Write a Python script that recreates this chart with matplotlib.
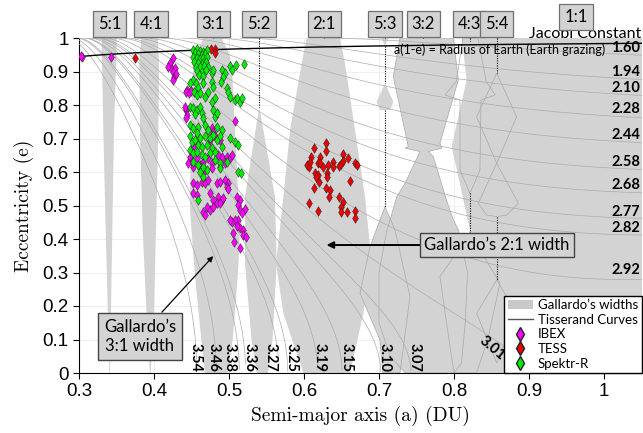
import numpy as np
import matplotlib
matplotlib.use("Agg")
import matplotlib.pyplot as plt
from matplotlib import font_manager as fm
from matplotlib.patches import Polygon, Patch
from matplotlib.lines import Line2D

# ---------------------------------------------------------------- fonts
_available = {f.name for f in fm.fontManager.ttflist}


def pick(*names):
    for n in names:
        if n in _available:
            return n
    return "DejaVu Sans"


NARROW = pick("Liberation Sans Narrow", "Lato", "Open Sans")
SANS = pick("Liberation Sans", "Arimo", "DejaVu Sans")
SERIF = pick("cmr10", "DejaVu Serif")

# ---------------------------------------------------------------- data
# resonance centres (semi-major axis, DU)
res_labels = ["5:1", "4:1", "3:1", "5:2", "2:1", "5:3", "3:2", "4:3", "5:4"]
res_a = [0.341, 0.396, 0.479, 0.540, 0.627, 0.708, 0.759, 0.821, 0.857]

# Jacobi constants of the Tisserand curves
jacobi_all = [1.60, 1.94, 2.10, 2.28, 2.44, 2.58, 2.68, 2.77, 2.82, 2.92,
              3.01, 3.07, 3.10, 3.15, 3.19, 3.25, 3.27, 3.36, 3.38, 3.46, 3.54]
# labels along the right border
jacobi_right = ["1.60", "1.94", "2.10", "2.28", "2.44", "2.58", "2.68", "2.77", "2.82", "2.92"]
jacobi_right_e = [0.970, 0.899, 0.851, 0.788, 0.710, 0.630, 0.561, 0.481, 0.433, 0.307]
# labels along the bottom border
jacobi_bottom = ["3.54", "3.46", "3.38", "3.36", "3.27", "3.25", "3.19", "3.15", "3.10", "3.07"]
jacobi_bottom_a = [0.455, 0.479, 0.501, 0.528, 0.555, 0.584, 0.621, 0.657, 0.708, 0.748]

earth_radius_du = 0.0166

# Gallardo's resonance widths, outlines as (a, e) vertex lists
w51_a = [0.331, 0.3302, 0.3324, 0.3356, 0.3391, 0.3405, 0.3415, 0.3422, 0.3444, 0.3467, 0.3502, 0.3505]
w51_e = [1.0, 0.98, 0.725, 0.427, 0.128, 0.0, 0.0, 0.128, 0.427, 0.725, 0.98, 1.0]

w41_a = [0.383, 0.3804, 0.3813, 0.3849, 0.3911, 0.3945, 0.3955, 0.3991, 0.4027, 0.4058, 0.4067, 0.405]
w41_e = [1.0, 0.924, 0.725, 0.427, 0.128, 0.0, 0.0, 0.128, 0.427, 0.725, 0.924, 1.0]

w31_a = [0.466, 0.4575, 0.4524, 0.4489, 0.448, 0.4547, 0.4636, 0.468,
         0.498, 0.505, 0.512, 0.5147, 0.508, 0.5036, 0.499, 0.490]
w31_e = [1.0, 0.96, 0.924, 0.725, 0.487, 0.288, 0.089, 0.0,
         0.0, 0.1, 0.3, 0.427, 0.725, 0.924, 0.96, 1.0]

w52_a = [0.5404, 0.5613, 0.5636, 0.558, 0.552, 0.537, 0.530, 0.5213, 0.5213]
w52_e = [0.795, 0.526, 0.327, 0.1, 0.0, 0.0, 0.1, 0.327, 0.526]

w21_a = [0.6036, 0.5969, 0.5814, 0.5725, 0.5627, 0.5725, 0.5991,
         0.6614, 0.6791, 0.6903, 0.6814, 0.668, 0.6547, 0.648]
w21_e = [1.0, 0.924, 0.725, 0.526, 0.327, 0.178, 0.0,
         0.0, 0.178, 0.327, 0.526, 0.725, 0.924, 1.0]

w53_top_a = [0.703, 0.713, 0.708]
w53_top_e = [1.0, 1.0, 0.977]
w53_mid_a = [0.708, 0.7191, 0.7147, 0.7013, 0.6969]
w53_mid_e = [0.865, 0.81, 0.785, 0.785, 0.81]
w53_low_a = [0.708, 0.7213, 0.7413, 0.728, 0.705, 0.7013, 0.6747, 0.688]
w53_low_e = [0.4965, 0.427, 0.228, 0.0, 0.0, 0.0985, 0.238, 0.377]

w32_a = [0.728, 0.7991, 0.8058, 0.7813, 0.7836, 0.7658, 0.7724, 0.790, 0.7991, 0.8058,
         0.818, 0.815, 0.81, 0.80, 0.735, 0.715, 0.700, 0.700, 0.710, 0.7236,
         0.7347, 0.7547, 0.7347, 0.739, 0.719]
w32_e = [1.0, 1.0, 0.875, 0.686, 0.671, 0.661, 0.646, 0.516, 0.457, 0.427,
         0.3, 0.15, 0.03, 0.0, 0.0, 0.05, 0.15, 0.3, 0.42, 0.526,
         0.566, 0.661, 0.671, 0.676, 0.885]

w11_a = [0.8102, 1.06, 1.06, 0.79, 0.79, 0.80, 0.8213, 0.7969, 0.8169]
w11_e = [1.0, 1.0, 0.0, 0.0, 0.1, 0.3, 0.427, 0.676, 0.875]

w43_up_a = [0.812, 0.803, 0.788, 0.808, 0.808, 0.8213, 0.8346, 0.836, 0.855, 0.843, 0.832]
w43_up_e = [1.0, 0.87, 0.83, 0.815, 0.606, 0.536, 0.606, 0.815, 0.83, 0.87, 1.0]
w43_low_a = [0.8213, 0.8613, 0.845, 0.83, 0.80, 0.79, 0.7813]
w43_low_e = [0.417, 0.268, 0.1, 0.0, 0.0, 0.15, 0.288]

w54_up_a = [0.8569, 0.8835, 0.8569, 0.8302]
w54_up_e = [0.8945, 0.765, 0.626, 0.765]
w54_mid_a = [0.8569, 0.8858, 0.8702, 0.8569, 0.8436, 0.8324]
w54_mid_e = [0.626, 0.5065, 0.4716, 0.4667, 0.4716, 0.5065]
w54_low_a = [0.8569, 0.8835, 0.8569, 0.8302]
w54_low_e = [0.2776, 0.178, 0.03, 0.178]

# dotted resonance centre lines where the width vanishes: (a, e_top, e_bottom)
dot_a = [0.5404, 0.708, 0.708, 0.8213, 0.8213, 0.857, 0.857]
dot_e_top = [1.0, 0.977, 0.785, 1.0, 0.536, 1.0, 0.4667]
dot_e_bot = [0.795, 0.865, 0.4965, 0.99, 0.417, 0.8945, 0.2776]

# observed objects (a [DU], e)
ibex_a = [0.3036, 0.3027, 0.3427,
          0.4249, 0.4213, 0.4191, 0.4236, 0.4280, 0.4258, 0.4267, 0.4249, 0.4293,
          0.4445, 0.4427, 0.4471, 0.4498, 0.4427, 0.4436, 0.4427, 0.4418, 0.5080,
          0.4769, 0.4791, 0.4813, 0.4747, 0.4880, 0.4569, 0.4525, 0.4480, 0.4502,
          0.4458, 0.4525, 0.4613, 0.4658, 0.4724, 0.4769, 0.4858, 0.4880, 0.4902,
          0.4969, 0.5013, 0.5036, 0.4947, 0.4769, 0.4680, 0.4569,
          0.4525, 0.4569, 0.4636, 0.4680, 0.4724, 0.4836, 0.4880, 0.4947, 0.4991,
          0.4969, 0.4991, 0.4525, 0.4569, 0.4747, 0.4858, 0.4902, 0.4791, 0.4836,
          0.4880, 0.4925, 0.5102, 0.5147, 0.5124, 0.4702, 0.4658, 0.4680, 0.4747,
          0.4791, 0.5147, 0.5213, 0.5169, 0.5124, 0.5080, 0.5036, 0.5013, 0.5147,
          0.5182, 0.5058, 0.5182, 0.5222, 0.5071, 0.5147, 0.5100]
ibex_e = [0.942, 0.946, 0.944,
          0.939, 0.924, 0.914, 0.907, 0.909, 0.900, 0.885, 0.875, 0.893,
          0.845, 0.840, 0.835, 0.842, 0.785, 0.770, 0.760, 0.795, 0.753,
          0.730, 0.720, 0.706, 0.696, 0.696, 0.696, 0.676, 0.646, 0.631,
          0.626, 0.616, 0.621, 0.631, 0.641, 0.626, 0.651, 0.616, 0.646,
          0.646, 0.641, 0.651, 0.626, 0.611, 0.606, 0.641,
          0.566, 0.561, 0.571, 0.566, 0.576, 0.566, 0.571, 0.576, 0.566,
          0.556, 0.548, 0.536, 0.531, 0.536, 0.526, 0.516, 0.516, 0.506,
          0.506, 0.521, 0.526, 0.516, 0.502, 0.497, 0.482, 0.472, 0.487,
          0.497, 0.487, 0.489, 0.479, 0.457, 0.457, 0.452, 0.457, 0.432,
          0.427, 0.417, 0.412, 0.405, 0.390, 0.372, 0.440]

tess_a = [0.3747, 0.4756, 0.4813, 0.4813,
          0.6289, 0.6134, 0.6289, 0.6089, 0.6214, 0.6516, 0.6045, 0.6071, 0.6080,
          0.6191, 0.6214, 0.6258, 0.6325, 0.6391, 0.6391, 0.6471, 0.6489, 0.6583,
          0.6516, 0.6680, 0.6711, 0.6147, 0.6183, 0.6160, 0.6311, 0.6303, 0.6205,
          0.6138, 0.6289, 0.6347, 0.6338, 0.6614, 0.6471, 0.6525, 0.6489, 0.6498,
          0.6569, 0.6676, 0.6680, 0.6071, 0.6191]
tess_e = [0.941, 0.966, 0.966, 0.954,
          0.6856, 0.6707, 0.6627, 0.6458, 0.6458, 0.6537, 0.6209, 0.6159, 0.6309,
          0.6259, 0.6279, 0.6159, 0.6209, 0.6309, 0.6159, 0.6179, 0.6239, 0.6408,
          0.6338, 0.6259, 0.6209, 0.5980, 0.5911, 0.5861, 0.5980, 0.5861, 0.5712,
          0.5513, 0.5513, 0.5463, 0.5244, 0.5741, 0.5264, 0.5115, 0.4945, 0.4816,
          0.4816, 0.4846, 0.4637, 0.5065, 0.4836]

spektr_a = [0.4525, 0.4569, 0.4613, 0.4658, 0.4702, 0.4547, 0.4591, 0.4636, 0.4680,
            0.4516, 0.4569, 0.4613, 0.4658, 0.4711, 0.4533, 0.4591, 0.4649, 0.4693,
            0.4560, 0.4613, 0.4667, 0.4724, 0.4578, 0.4636, 0.4693, 0.4605, 0.4658,
            0.4769, 0.4791, 0.4525, 0.4560, 0.4591, 0.4533, 0.4569, 0.4613,
            0.5204, 0.5093, 0.5013, 0.4902, 0.4947, 0.5036, 0.4916, 0.4889, 0.4969,
            0.4991, 0.5013, 0.5080, 0.5111, 0.5147, 0.5169,
            0.4480, 0.4658, 0.4769, 0.4791, 0.4724, 0.4680, 0.4769, 0.4813,
            0.4480, 0.4525, 0.4569, 0.4613, 0.4636, 0.4547, 0.4658, 0.4791, 0.4813,
            0.4836, 0.4680, 0.4724, 0.4836, 0.4902,
            0.4480, 0.4525, 0.4591, 0.4569, 0.4480, 0.4502, 0.4547, 0.4613, 0.4680,
            0.4747, 0.4791, 0.4836, 0.4880, 0.4591, 0.4636, 0.4702, 0.4769, 0.4480,
            0.4525, 0.4569, 0.4636, 0.4680, 0.4747, 0.4813, 0.4902, 0.5013, 0.5080,
            0.5124, 0.4525, 0.4591, 0.4658, 0.4702, 0.4613, 0.4813, 0.4880, 0.4969,
            0.5124, 0.5156, 0.4880, 0.4658, 0.4591]
spektr_e = [0.964, 0.966, 0.962, 0.959, 0.964, 0.954, 0.952, 0.949, 0.952,
            0.944, 0.939, 0.936, 0.939, 0.942, 0.929, 0.926, 0.924, 0.929,
            0.914, 0.912, 0.916, 0.914, 0.902, 0.900, 0.904, 0.890, 0.887,
            0.895, 0.904, 0.875, 0.865, 0.850, 0.840, 0.830, 0.835,
            0.922, 0.919, 0.916, 0.904, 0.897, 0.904, 0.885, 0.870, 0.850,
            0.840, 0.825, 0.815, 0.820, 0.810, 0.820,
            0.865, 0.865, 0.870, 0.855, 0.840, 0.825, 0.810, 0.820,
            0.795, 0.790, 0.785, 0.793, 0.777, 0.773, 0.760, 0.785, 0.763,
            0.775, 0.740, 0.725, 0.735, 0.725,
            0.740, 0.730, 0.735, 0.716, 0.706, 0.691, 0.696, 0.701, 0.706,
            0.701, 0.711, 0.696, 0.706, 0.681, 0.676, 0.681, 0.671, 0.666,
            0.656, 0.661, 0.651, 0.646, 0.656, 0.661, 0.676, 0.701, 0.691,
            0.681, 0.631, 0.621, 0.616, 0.606, 0.601, 0.636, 0.626, 0.631,
            0.601, 0.596, 0.611, 0.586, 0.516]

# ---------------------------------------------------------------- figure
FILL = "#d3d3d3"
EDGE = "#a9a9a9"
TXT = [NARROW, "DejaVu Sans"]

fig = plt.figure(figsize=(6.43, 4.33), dpi=100)
ax = fig.add_axes([79 / 643, 60 / 433, 562.5 / 643, 335 / 433])
ax.set_xlim(0.3, 1.05)
ax.set_ylim(0.0, 1.0)

ax.grid(True, color="#ededed", lw=0.6, zorder=0)
ax.set_axisbelow(True)

shapes_filled = [(w51_a, w51_e), (w41_a, w41_e), (w31_a, w31_e), (w52_a, w52_e),
                 (w21_a, w21_e), (w53_top_a, w53_top_e), (w53_mid_a, w53_mid_e),
                 (w53_low_a, w53_low_e), (w32_a, w32_e), (w11_a, w11_e)]
for sa, se in shapes_filled:
    ax.add_patch(Polygon(np.column_stack([sa, se]), closed=True, facecolor=FILL,
                         edgecolor="none", zorder=1))

# outlines of the overlapping widths
outlines = [(w53_low_a, w53_low_e), (w32_a, w32_e),
            (w43_up_a, w43_up_e), (w43_low_a, w43_low_e),
            (w54_up_a, w54_up_e), (w54_mid_a, w54_mid_e), (w54_low_a, w54_low_e)]
for sa, se in outlines:
    ax.add_patch(Polygon(np.column_stack([sa, se]), closed=True, facecolor="none",
                         edgecolor=EDGE, lw=0.5, zorder=2))

# Tisserand curves
for T in jacobi_all:
    a = np.linspace(1.0 / T, 1.06, 3000)
    q = (T - 1.0 / a) / 2.0
    e2 = 1.0 - q ** 2 / a
    e = np.where(e2 >= 0, np.sqrt(np.clip(e2, 0, None)), np.nan)
    ax.plot(a, e, color="#ababab", lw=0.5, zorder=3)

# dotted resonance centre lines
for xa, et, eb in zip(dot_a, dot_e_top, dot_e_bot):
    ax.plot([xa, xa], [et, eb], color="k", lw=0.8, ls=(0, (1, 1.2)), zorder=4)

# Earth-grazing limit a(1-e) = R_earth
ag = np.linspace(0.3, 1.05, 300)
ax.plot(ag, 1 - earth_radius_du / ag, color="k", lw=1.0, zorder=5)
ax.text(1.0013, 0.983, "a(1-e) = Radius of Earth (Earth grazing)", ha="right", va="top",
        fontsize=9.0, family=TXT, zorder=6)

# observed objects
mk = dict(marker="d", s=24, edgecolors="#222222", linewidths=0.35, zorder=7)
ax.scatter(ibex_a, ibex_e, c="#ff00ff", **mk)
ax.scatter(tess_a, tess_e, c="#ee0000", **mk)
ax.scatter(spektr_a, spektr_e, c="#00ee00", **mk)

# Jacobi constant labels
ax.text(1.05, 1.012, "Jacobi Constant", ha="right", va="center", fontsize=11.5,
        family=TXT, clip_on=False)
for lab, ev in zip(jacobi_right, jacobi_right_e):
    ax.text(1.048, ev, lab, ha="right", va="center", fontsize=10.5, fontweight="bold",
            family=TXT, zorder=8)
for lab, av in zip(jacobi_bottom, jacobi_bottom_a):
    ax.text(av, 0.003, lab, ha="center", va="bottom", rotation=-90, fontsize=10.5,
            fontweight="bold", family=TXT, zorder=8)
ax.text(0.851, 0.075, "3.01", ha="center", va="center", rotation=-40, fontsize=10.5,
        fontweight="bold", family=TXT, zorder=8)

# resonance boxes above the plot
box = dict(boxstyle="square,pad=0.3", facecolor=FILL, edgecolor="#707070", lw=0.9)
for lab, av in zip(res_labels, res_a):
    ax.text(av, 1.042, lab, ha="center", va="center", fontsize=12,
            family=TXT, bbox=box, clip_on=False)
    ax.plot([av, av], [1.0, 1.014], color="k", lw=0.7, ls=(0, (1, 1)), clip_on=False)
ax.text(0.9627, 1.063, "1:1", ha="center", va="center", fontsize=12,
        family=TXT, bbox=box, clip_on=False)

# annotations
nbox = dict(boxstyle="square,pad=0.25", facecolor=FILL, edgecolor="#444444", lw=1.0)
ax.annotate("Gallardo’s 2:1 width", xy=(0.630, 0.382), xytext=(0.8573, 0.382),
            ha="center", va="center", fontsize=12, family=TXT,
            bbox=nbox, zorder=9,
            arrowprops=dict(arrowstyle="-|>", color="k", lw=1.4, shrinkA=0, shrinkB=0,
                            mutation_scale=10))
ax.annotate("Gallardo’s\n3:1 width", xy=(0.479, 0.349), xytext=(0.3813, 0.110),
            ha="center", va="center", fontsize=12, family=TXT,
            linespacing=1.25, bbox=dict(boxstyle="square,pad=0.35", facecolor=FILL,
                                        edgecolor="#444444", lw=1.0), zorder=9,
            arrowprops=dict(arrowstyle="-|>", color="k", lw=0.9, shrinkA=0, shrinkB=0,
                            mutation_scale=8))

# legend
handles = [Patch(facecolor="#c9c9c9", edgecolor="none", label="Gallardo’s widths"),
           Line2D([], [], color="#555555", lw=1.0, label="Tisserand Curves"),
           Line2D([], [], color="none", marker="d", markerfacecolor="#ff00ff",
                  markeredgecolor="#222222", markersize=7, label="IBEX"),
           Line2D([], [], color="none", marker="d", markerfacecolor="#ee0000",
                  markeredgecolor="#222222", markersize=7, label="TESS"),
           Line2D([], [], color="none", marker="d", markerfacecolor="#00ee00",
                  markeredgecolor="#222222", markersize=7, label="Spektr-R")]
leg = ax.legend(handles=handles, loc="lower right", bbox_to_anchor=(1.0, 0.0),
                borderaxespad=0.0, fancybox=False, framealpha=1.0, edgecolor="k",
                prop={"family": TXT, "size": 9.5},
                handlelength=1.9, handletextpad=0.4, labelspacing=0.2, borderpad=0.25)
leg.get_frame().set_linewidth(1.0)
leg.set_zorder(10)

# axes styling
for side in ("top", "right"):
    ax.spines[side].set_visible(False)
ax.set_xticks([0.3, 0.4, 0.5, 0.6, 0.7, 0.8, 0.9, 1.0])
ax.set_xticklabels(["0.3", "0.4", "0.5", "0.6", "0.7", "0.8", "0.9", "1"])
ax.set_yticks(np.round(np.arange(0, 1.01, 0.1), 1))
ax.set_yticklabels(["0", "0.1", "0.2", "0.3", "0.4", "0.5", "0.6", "0.7", "0.8", "0.9", "1"])
ax.tick_params(direction="out", length=4, width=0.8, labelsize=13.5)
for lbl in ax.get_xticklabels() + ax.get_yticklabels():
    lbl.set_family(SANS)
ax.set_xlabel("Semi-major axis (a) (DU)", fontsize=14, family=SERIF, labelpad=4)
ax.set_ylabel("Eccentricity (e)", fontsize=14, family=SERIF, labelpad=6)

fig.savefig("out.png", dpi=100)
